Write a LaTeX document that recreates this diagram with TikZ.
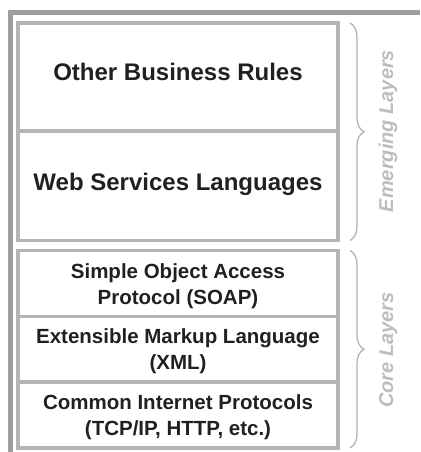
\documentclass[tikz,border=0pt]{standalone}
\usepackage{fontspec}
\setmainfont{Liberation Sans}
\usetikzlibrary{decorations.pathreplacing}
\definecolor{framegray}{HTML}{9D9D9F}
\definecolor{boxgray}{HTML}{B5B5B5}
\definecolor{bracegray}{HTML}{B3B3B3}
\definecolor{labelgray}{HTML}{BDBDBD}
\definecolor{ink}{HTML}{231F20}
\tikzset{
  layer/.style={draw=boxgray, line width=3.5pt, minimum width=320pt, inner sep=0pt, outer sep=0pt},
  bigtxt/.style={font=\fontsize{24}{28}\selectfont\bfseries, text=ink, anchor=base, inner sep=0pt},
  smalltxt/.style={font=\fontsize{20.5}{25.5}\selectfont\bfseries, text=ink, align=center, inner sep=0pt},
  sidelabel/.style={font=\fontsize{20}{24}\selectfont\bfseries\itshape, text=labelgray, rotate=90, anchor=base, inner sep=0pt},
  bracestyle/.style={draw=bracegray, line width=1.3pt, decorate, decoration={brace, amplitude=14pt}},
  framestyle/.style={draw=framegray, line width=5pt, line join=miter}
}
\begin{document}
\begin{tikzpicture}[x=1pt,y=1pt]
\useasboundingbox (0,0) rectangle (420,-452);
% outer frame
\draw[framestyle] (420,-12.5) -- (10.5,-12.5) -- (10.5,-452);
% layer boxes
\node[layer, minimum height=108pt] (b1) at (178,-77) {};
\node[layer, minimum height=109.5pt] (b2) at (178,-185.75) {};
\node[layer, minimum height=66pt] (b3) at (178,-283.5) {};
\node[layer, minimum height=65.5pt] (b4) at (178,-349.25) {};
\node[layer, minimum height=66pt] (b5) at (178,-415) {};
% texts
\node[bigtxt] (t1) at (178,-81) {Other Business Rules};
\node[bigtxt] (t2) at (178,-190) {Web Services Languages};
\node[smalltxt] (t3) at (178,-286) {Simple Object Access\\Protocol (SOAP)};
\node[smalltxt] (t4) at (178,-351.4) {Extensible Markup Language\\(XML)};
\node[smalltxt] (t5) at (178,-417.4) {Common Internet Protocols\\(TCP/IP, HTTP, etc.)};
% braces
\coordinate (e1) at ([xshift=12pt]b1.north east);
\coordinate (e2) at ([xshift=12pt]b2.south east);
\coordinate (c1) at ([xshift=12pt]b3.north east);
\coordinate (c2) at ([xshift=12pt]b5.south east);
\draw[bracestyle] (e1) -- (e2);
\draw[bracestyle] (c1) -- (c2);
% side labels
\node[sidelabel] (lem) at (393,-131) {Emerging Layers};
\node[sidelabel] (lco) at (393,-350) {Core Layers};
\end{tikzpicture}
\end{document}
